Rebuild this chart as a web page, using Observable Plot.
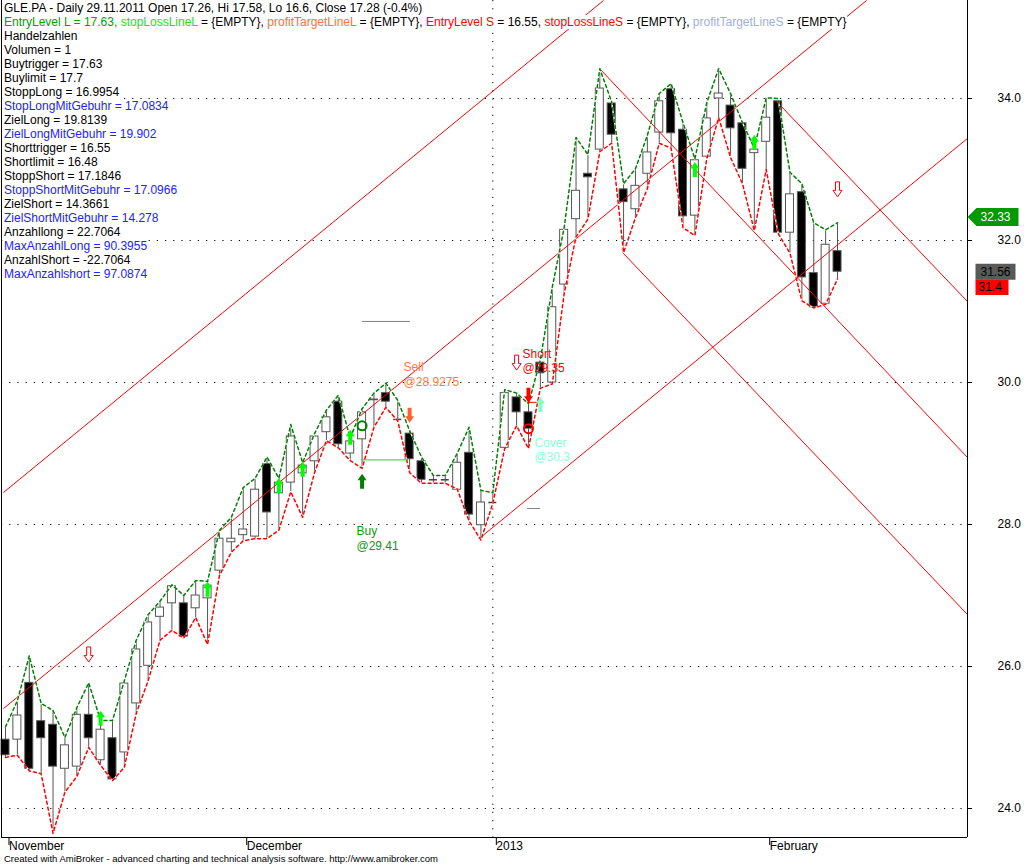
<!DOCTYPE html>
<html><head><meta charset="utf-8">
<script src="https://cdn.jsdelivr.net/npm/d3@7"></script>
<script src="https://cdn.jsdelivr.net/npm/@observablehq/plot@0.6"></script>
<style>
body{margin:0;background:#fff;font-family:"Liberation Sans",Arial,sans-serif;}
#wrap{position:relative;width:1028px;height:852px;}
#legend{position:absolute;left:4px;top:1px;font-size:12px;line-height:14px;}
#legend div{background:#fff;width:fit-content;white-space:pre;}
#caption{font-size:9.5px;padding-left:4px;line-height:13px;color:#000;}
</style></head><body>
<div id="wrap"><div id="chart"></div><div id="legend"></div></div>
<div id="caption">Created with AmiBroker - advanced charting and technical analysis software. http://www.amibroker.com</div>
<script>
// ---- candle data (bar index 0..70) ----
const opens  = [24.97,24.97,25.77,25.23,25.18,24.56,24.59,25.32,24.68,24.99,24.79,25.48,26.01,26.70,26.89,26.89,26.82,26.96,27.35,27.75,27.85,27.83,28.85,28.44,28.59,28.72,28.89,29.30,29.73,29.00,29.20,29.75,29.85,29.48,29.28,28.89,28.63,28.63,28.49,29.01,27.99,28.31,29.08,29.79,29.58,30.28,30.00,31.38,32.30,32.94,33.28,33.93,32.72,32.44,32.94,33.52,34.13,33.56,32.35,33.18,34.00,33.90,33.65,33.23,33.39,33.96,32.11,32.68,31.54,31.11,31.85];
const highs  = [25.15,25.52,26.15,25.48,25.38,25.00,25.42,25.77,25.24,25.24,25.80,26.37,26.73,26.92,27.15,27.00,27.21,27.20,27.92,28.10,28.52,28.65,28.95,28.65,29.41,28.87,29.28,29.61,29.82,29.22,29.63,29.85,29.99,29.75,29.32,28.95,28.69,28.69,29.00,29.37,28.48,28.45,29.90,29.85,29.70,30.32,31.34,32.18,33.45,33.21,34.42,33.95,32.80,33.01,33.48,34.07,34.21,33.66,33.15,33.94,34.42,34.07,33.66,33.30,34.01,34.00,32.96,32.80,32.25,32.15,32.25];
const lows   = [24.72,24.75,24.53,24.49,23.65,24.23,24.45,24.86,24.61,24.39,24.58,25.34,25.80,26.37,26.51,26.40,26.69,26.31,27.28,27.61,27.77,27.80,27.80,27.92,28.46,28.10,28.73,29.18,29.08,28.90,28.79,29.37,29.65,29.46,28.73,28.58,28.58,28.58,28.50,28.05,27.78,28.30,29.07,29.39,29.07,29.92,29.98,31.25,32.05,32.30,33.25,33.37,31.83,32.32,32.73,33.37,33.30,32.18,32.07,33.15,33.73,33.17,32.80,32.14,33.00,32.10,31.82,31.15,31.05,31.10,31.46];
const closes = [24.75,25.31,24.56,24.99,24.59,24.89,25.32,24.99,25.11,24.41,25.76,26.24,26.62,26.83,27.13,26.42,27.00,27.14,27.80,27.80,27.93,28.49,28.17,28.59,29.24,28.83,29.24,29.51,29.13,29.17,29.58,29.76,29.73,29.48,28.92,28.63,28.63,28.63,28.87,28.14,28.31,28.31,29.85,29.58,29.35,30.13,31.06,32.15,32.70,32.89,34.14,33.49,32.54,32.77,33.24,33.96,33.51,32.34,33.13,33.72,34.07,33.58,33.01,33.28,33.73,32.11,32.65,31.48,31.06,31.94,31.56];

// ---- axes ----
const monthTickIdx = [0, 20, 41, 64];
const monthLabels  = ["November", "December", "2013", "February"];
const priceTicks   = [24, 26, 28, 30, 32, 34];
const yearSeparatorIdx = [41];

// ---- trend channel lines (bar index, price) ----
const trendStartIdx   = [-0.17, -0.17, 39.96, 49.97, 51.91, 64.87];
const trendStartPrice = [28.451, 25.408, 27.817, 34.423, 31.831, 33.958];
const trendEndIdx     = [50.31, 72.44, 80.93, 80.93, 80.93, 80.93];
const trendEndPrice   = [35.38, 35.38, 33.437, 28.944, 26.732, 31.141];

// ---- signals ----
const greenUpIdx   = [8, 17, 23, 25, 29, 58, 63];
const greenUpPrice = [25.27, 27.09, 28.55, 28.78, 29.23, 33.0, 33.38];
const buyArrowIdx = [30],   buyArrowPrice = [28.61];
const sellArrowIdx = [34],  sellArrowPrice = [29.54];
const shortArrowIdx = [44], shortArrowPrice = [29.82];
const coverArrowIdx = [45], coverArrowPrice = [29.69];
const hollowDownIdx   = [7, 43, 70];
const hollowDownPrice = [26.17, 30.28, 32.72];
const buyCircleIdx = [30],  buyCirclePrice = [29.39];
const shortCircleIdx = [44], shortCirclePrice = [29.35];

const tradeLabels = ["Sell\n@28.9275", "Buy\n@29.41", "Short\n@29.35", "Cover\n@30.3"];
const tradeLabelIdx   = [33.49, 29.53, 43.5, 44.5];
const tradeLabelPrice = [30.30, 27.99, 30.49, 29.24];

const segStartIdx = [30.04, 29.95, 43.92, 43.92];
const segEndIdx   = [34.07, 33.93, 45.01, 45.01];
const segPrice    = [30.86, 28.91, 28.225, 29.72];

// ---- right-hand value boxes ----
const markerGreenValue = 32.33;
const lastCloseValue   = 31.56;
const markerRedValue   = 31.4;

// ---- legend texts ----
const legendLines = [
  [["GLE.PA - Daily 29.11.2011 Open 17.26, Hi 17.58, Lo 16.6, Close 17.28 (-0.4%)", "k"]],
  [["EntryLevel L = 17.63, ", "g"], ["stopLossLineL", "lg"], [" = {EMPTY}, ", "k"], ["profitTargetLineL", "o"], [" = {EMPTY}, ", "k"], ["EntryLevel S", "r"], [" = 16.55, ", "k"], ["stopLossLineS", "r"], [" = {EMPTY}, ", "k"], ["profitTargetLineS", "sb"], [" = {EMPTY}", "k"]],
  [["Handelzahlen", "k"]],
  [["Volumen = 1", "k"]],
  [["Buytrigger = 17.63", "k"]],
  [["Buylimit = 17.7", "k"]],
  [["StoppLong = 16.9954", "k"]],
  [["StopLongMitGebuhr = 17.0834", "b"]],
  [["ZielLong = 19.8139", "k"]],
  [["ZielLongMitGebuhr = 19.902", "b"]],
  [["Shorttrigger = 16.55", "k"]],
  [["Shortlimit = 16.48", "k"]],
  [["StoppShort = 17.1846", "k"]],
  [["StoppShortMitGebuhr = 17.0966", "b"]],
  [["ZielShort = 14.3661", "k"]],
  [["ZielShortMitGebuhr = 14.278", "b"]],
  [["Anzahllong = 22.7064", "k"]],
  [["MaxAnzahlLong = 90.3955", "b"]],
  [["AnzahlShort = -22.7064", "k"]],
  [["MaxAnzahlshort = 97.0874", "b"]]
];
const legendColors = {k:"#000", g:"#00a000", lg:"#22dd22", o:"#ff7040", r:"#ff0000", sb:"#9fb0dd", b:"#2222ff"};

const legend = document.getElementById("legend");
for (const line of legendLines) {
  const div = document.createElement("div");
  for (const [t, c] of line) {
    const s = document.createElement("span");
    s.textContent = t; s.style.color = legendColors[c];
    div.appendChild(s);
  }
  legend.appendChild(div);
}

// ---- symbols ----
const upArrow = {draw(ctx){ctx.moveTo(0,-7.5);ctx.lineTo(4.5,-1);ctx.lineTo(2,-1);ctx.lineTo(2,7.5);ctx.lineTo(-2,7.5);ctx.lineTo(-2,-1);ctx.lineTo(-4.5,-1);ctx.closePath();}};
const downArrow = {draw(ctx){ctx.moveTo(0,7.5);ctx.lineTo(4.5,1);ctx.lineTo(2,1);ctx.lineTo(2,-7.5);ctx.lineTo(-2,-7.5);ctx.lineTo(-2,1);ctx.lineTo(-4.5,1);ctx.closePath();}};
const greenBoxSym = {draw(ctx){ctx.moveTo(0,0);ctx.lineTo(9,-9);ctx.lineTo(51,-9);ctx.lineTo(51,9);ctx.lineTo(9,9);ctx.closePath();}};
const grayBoxSym = {draw(ctx){ctx.rect(8,-8,40,16);}};
const redBoxSym = {draw(ctx){ctx.rect(8,-3.5,33,15.5);}};

const idx = d3.range(opens.length);
const upIdx = idx.filter(i => closes[i] > opens[i]);
const downIdx = idx.filter(i => closes[i] < opens[i]);
const dojiIdx = idx.filter(i => closes[i] === opens[i]);
const hw = 0.3365;
const trendIdx = d3.range(trendStartIdx.length);
const segIdx = d3.range(segPrice.length);
const segColors = ["#808080", "#22dd22", "#808080", "#ff0000"];
const labelColors = ["#ff7a45", "#109a10", "#ff0000", "#88ffd8"];
const pt = (I, P) => I.map((d, k) => ({i: d, p: P[k]}));

const chart = Plot.plot({
  width: 1028, height: 852,
  marginLeft: 1, marginRight: 61, marginTop: 0, marginBottom: 15,
  style: {fontFamily: "'Liberation Sans', Arial, sans-serif", fontSize: "12px", background: "#fff", overflow: "visible"},
  x: {type: "linear", domain: [-0.3365, 80.935], axis: null},
  y: {domain: [23.592, 35.38], axis: null},
  marks: [
    Plot.ruleY(priceTicks, {stroke: "#000", strokeDasharray: "1.2,7"}),
    Plot.ruleX(yearSeparatorIdx, {stroke: "#000", strokeDasharray: "1.2,7"}),
    // candles
    Plot.ruleX(idx, {x: i => i, y1: i => lows[i], y2: i => highs[i], stroke: "#555"}),
    Plot.rect(upIdx, {x1: i => i - hw, x2: i => i + hw, y1: i => opens[i], y2: i => closes[i], fill: "#fff", stroke: "#555"}),
    Plot.rect(downIdx, {x1: i => i - hw, x2: i => i + hw, y1: i => closes[i], y2: i => opens[i], fill: "#000", stroke: "#555"}),
    Plot.ruleY(dojiIdx, {x1: i => i - hw, x2: i => i + hw, y: i => opens[i], stroke: "#404040", strokeWidth: 1.5}),
    // trend channel
    Plot.link(trendIdx, {x1: k => trendStartIdx[k], y1: k => trendStartPrice[k], x2: k => trendEndIdx[k], y2: k => trendEndPrice[k], stroke: "#ff0000", clip: true}),
    // high / low envelopes
    Plot.line(idx, {x: i => i, y: i => highs[i], stroke: "#fff"}),
    Plot.line(idx, {x: i => i, y: i => highs[i], stroke: "#008000", strokeDasharray: "3,3"}),
    Plot.line(idx, {x: i => i, y: i => lows[i], stroke: "#fff"}),
    Plot.line(idx, {x: i => i, y: i => lows[i], stroke: "#ff0000", strokeDasharray: "3,3"}),
    // horizontal trade segments
    Plot.ruleY(segIdx, {x1: k => segStartIdx[k], x2: k => segEndIdx[k], y: k => segPrice[k], stroke: k => segColors[k]}),
    // signals
    Plot.dot(pt(greenUpIdx, greenUpPrice), {x: "i", y: "p", symbol: upArrow, fill: "#00ff00", stroke: "none"}),
    Plot.dot(pt(buyArrowIdx, buyArrowPrice), {x: "i", y: "p", symbol: upArrow, fill: "#008000", stroke: "none"}),
    Plot.dot(pt(sellArrowIdx, sellArrowPrice), {x: "i", y: "p", symbol: downArrow, fill: "#ff6030", stroke: "none"}),
    Plot.dot(pt(shortArrowIdx, shortArrowPrice), {x: "i", y: "p", symbol: downArrow, fill: "#ff0000", stroke: "none"}),
    Plot.dot(pt(coverArrowIdx, coverArrowPrice), {x: "i", y: "p", symbol: upArrow, fill: "#80ffd0", stroke: "none"}),
    Plot.dot(pt(hollowDownIdx, hollowDownPrice), {x: "i", y: "p", symbol: downArrow, fill: "#fff", stroke: "#ff0000", strokeWidth: 1}),
    Plot.dot(pt(buyCircleIdx, buyCirclePrice), {x: "i", y: "p", r: 4.5, fill: "none", stroke: "#008000", strokeWidth: 2}),
    Plot.dot(pt(shortCircleIdx, shortCirclePrice), {x: "i", y: "p", r: 4.5, fill: "none", stroke: "#ff0000", strokeWidth: 2}),
    Plot.text(d3.range(tradeLabels.length), {x: k => tradeLabelIdx[k], y: k => tradeLabelPrice[k], text: k => tradeLabels[k], fill: k => labelColors[k], textAnchor: "start", lineAnchor: "top", fontSize: 12, lineHeight: 1.2}),
    // frame lines
    Plot.ruleX([-0.3365], {stroke: "#000"}),
    Plot.ruleX([80.935], {stroke: "#000"}),
    Plot.ruleY([23.592], {stroke: "#000"}),
    // axes
    Plot.axisY(priceTicks, {anchor: "right", tickSize: 4, tickPadding: 26, tickFormat: d3.format(".1f"), fontSize: 12, label: null}),
    Plot.axisX(monthTickIdx, {anchor: "bottom", tickSize: 8, tickPadding: -4.5, textAnchor: "start", dx: 3.5, fontSize: 12, label: null, tickFormat: d => monthLabels[monthTickIdx.indexOf(d)]}),
    // right value boxes
    Plot.dot([markerGreenValue], {y: d => d, frameAnchor: "right", symbol: greenBoxSym, fill: "#009900", stroke: "none"}),
    Plot.text([markerGreenValue], {y: d => d, text: d => d3.format(".2f")(d), frameAnchor: "right", dx: 13, textAnchor: "start", fill: "#fff", fontSize: 12}),
    Plot.dot([lastCloseValue], {y: d => d, frameAnchor: "right", symbol: grayBoxSym, fill: "#5a5a5a", stroke: "none"}),
    Plot.text([lastCloseValue], {y: d => d, text: d => d3.format(".2f")(d), frameAnchor: "right", dx: 13, textAnchor: "start", fill: "#000", fontSize: 12}),
    Plot.dot([markerRedValue], {y: d => d, frameAnchor: "right", symbol: redBoxSym, fill: "#ff0000", stroke: "none"}),
    Plot.text([markerRedValue], {y: d => d, text: d => String(d), frameAnchor: "right", dx: 11, dy: 4, textAnchor: "start", fill: "#000", fontSize: 12})
  ]
});
document.getElementById("chart").appendChild(chart);
</script>
</body></html>
